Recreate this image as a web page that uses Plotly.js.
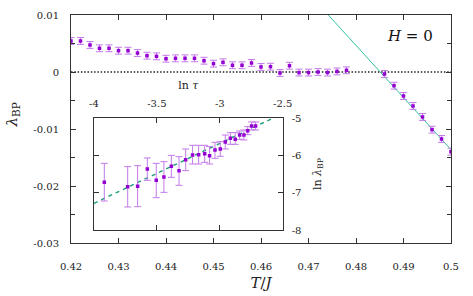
<!DOCTYPE html>
<html>
<head>
<meta charset="utf-8">
<script src="https://cdn.plot.ly/plotly-3.0.1.min.js"></script>
<style>
  html, body { margin: 0; padding: 0; background: #fff; }
  #chart { width: 473px; height: 296px; }
</style>
</head>
<body>
<div id="chart"></div>
<script>
// Bipartite-ness exponent lambda_BP versus temperature at zero field
const temperature = [
  0.420, 0.422, 0.424, 0.426, 0.428, 0.430, 0.432, 0.434, 0.436, 0.438,
  0.440, 0.442, 0.444, 0.446, 0.448, 0.450, 0.452, 0.454, 0.456, 0.458,
  0.460, 0.462, 0.464, 0.466, 0.468, 0.470, 0.472, 0.474, 0.476, 0.478,
  0.486, 0.488, 0.490, 0.492, 0.494, 0.496, 0.498, 0.500
];
const lambdaBP = [
  0.00544, 0.00544, 0.00474, 0.00416, 0.00416, 0.00374, 0.00374, 0.00333, 0.00286, 0.00275,
  0.00233, 0.00240, 0.00240, 0.00240, 0.00198, 0.00146, 0.00170, 0.00118, 0.00118, 0.00158,
  0.00088, 0.00093, -0.00018, 0.00110, -0.00010, -0.00010, 0.00000, -0.00010, 0.00010, 0.00030,
  -0.00035, -0.00240, -0.00421, -0.00596, -0.00789, -0.01012, -0.01175, -0.01398
];
const lambdaErr = [
  0.0006, 0.0006, 0.0006, 0.0006, 0.0006, 0.0006, 0.0006, 0.0006, 0.0006, 0.0006,
  0.0006, 0.0006, 0.0006, 0.0006, 0.0006, 0.0006, 0.0006, 0.0006, 0.0006, 0.0006,
  0.0006, 0.0006, 0.0006, 0.0006, 0.0006, 0.0006, 0.0006, 0.0006, 0.0006, 0.0006,
  0.0006, 0.0006, 0.0006, 0.0006, 0.0006, 0.0006, 0.0006, 0.0006
];

// Linear fit through the points above the transition
const fitT = [0.474, 0.500];
const fitLambda = [0.01015, -0.01362];

// Zero reference line
const zeroT = [0.42, 0.50];
const zeroLambda = [0, 0];

// Inset: log-log scaling below the transition
const lnTau = [
  -3.918, -3.732, -3.653, -3.576, -3.505, -3.444, -3.385, -3.324, -3.271, -3.216,
  -3.168, -3.120, -3.081, -3.038, -2.996, -2.956, -2.916, -2.877, -2.842, -2.808,
  -2.778, -2.747, -2.715
];
const lnLambda = [
  -6.720, -6.836, -6.827, -6.362, -6.666, -6.577, -6.290, -6.407, -6.111, -5.986,
  -5.977, -5.950, -6.004, -5.851, -5.825, -5.637, -5.538, -5.565, -5.449, -5.449,
  -5.332, -5.207, -5.207
];
const lnLambdaErrUp = [
  0.510, 0.537, 0.555, 0.296, 0.456, 0.412, 0.295, 0.377, 0.286, 0.260,
  0.251, 0.224, 0.243, 0.206, 0.198, 0.188, 0.152, 0.179, 0.108, 0.135,
  0.107, 0.108, 0.108
];
const lnLambdaErrDown = [
  0.501, 0.546, 0.547, 0.304, 0.466, 0.412, 0.296, 0.393, 0.296, 0.242,
  0.251, 0.233, 0.224, 0.224, 0.196, 0.188, 0.161, 0.134, 0.116, 0.134,
  0.108, 0.107, 0.107
];
const insetFitLnTau = [-4.0, -2.5];
const insetFitLnLambda = [-7.283, -4.871];

// Tick labels
const xTickVals = [0.42, 0.43, 0.44, 0.45, 0.46, 0.47, 0.48, 0.49, 0.50];
const xTickText = ['0.42', '0.43', '0.44', '0.45', '0.46', '0.47', '0.48', '0.49', '0.5'];
const yTickVals = [0.01, 0, -0.01, -0.02, -0.03];
const yTickText = ['0.01', '0', '-0.01', '-0.02', '-0.03'];
const yMinorVals = [0.005, -0.005, -0.015, -0.025];
const insetXTickVals = [-4, -3.5, -3, -2.5];
const insetXTickText = ['-4', '-3.5', '-3', '-2.5'];
const insetYTickVals = [-5, -6, -7, -8];
const insetYTickText = ['-5', '-6', '-7', '-8'];

const SERIF = '"DejaVu Serif", "Liberation Serif", serif';
const POINT = '#9400d3';
const BAR = '#c47ae8';

const traces = [
  {
    x: zeroT, y: zeroLambda, type: 'scatter', mode: 'lines',
    line: { color: '#222', width: 1.4, dash: '1.5px,1.8px' },
    hoverinfo: 'skip', xaxis: 'x', yaxis: 'y'
  },
  {
    x: fitT, y: fitLambda, type: 'scatter', mode: 'lines',
    line: { color: '#2fbf9f', width: 1 },
    hoverinfo: 'skip', xaxis: 'x', yaxis: 'y'
  },
  {
    x: temperature, y: lambdaBP, type: 'scatter', mode: 'markers',
    marker: { symbol: 'square', size: 3.5, color: POINT },
    error_y: { type: 'data', array: lambdaErr, color: BAR, thickness: 1, width: 3.5 },
    xaxis: 'x', yaxis: 'y'
  },
  {
    x: insetFitLnTau, y: insetFitLnLambda, type: 'scatter', mode: 'lines',
    line: { color: '#1a9e77', width: 1.4, dash: '4px,4px' },
    hoverinfo: 'skip', xaxis: 'x2', yaxis: 'y2'
  },
  {
    x: lnTau, y: lnLambda, type: 'scatter', mode: 'markers',
    marker: { symbol: 'square', size: 3.5, color: POINT },
    error_y: { type: 'data', symmetric: false, array: lnLambdaErrUp, arrayminus: lnLambdaErrDown,
               color: BAR, thickness: 1, width: 3.5 },
    xaxis: 'x2', yaxis: 'y2'
  }
];

const axisCommon = {
  showline: true, linecolor: '#333', linewidth: 1, mirror: 'ticks',
  ticks: 'inside', ticklen: 5, tickcolor: '#333', tickwidth: 1,
  showgrid: false, zeroline: false,
  tickfont: { family: SERIF, size: 10, color: '#222' }
};

const layout = {
  width: 473, height: 296,
  margin: { l: 71, r: 22, t: 15, b: 53 },
  paper_bgcolor: '#fff', plot_bgcolor: '#fff',
  showlegend: false,
  font: { family: SERIF, color: '#222' },
  xaxis: Object.assign({}, axisCommon, {
    range: [0.42, 0.50], tickmode: 'array', tickvals: xTickVals, ticktext: xTickText,
    ticklabelstandoff: 14,
    title: { text: '<i>T</i>/<i>J</i>', font: { family: SERIF, size: 15, color: '#222' }, standoff: 6 }
  }),
  yaxis: Object.assign({}, axisCommon, {
    range: [-0.03, 0.01], tickmode: 'array', tickvals: yTickVals, ticktext: yTickText,
    ticklabelstandoff: 9,
    minor: { tickmode: 'array', tickvals: yMinorVals, ticks: 'inside', ticklen: 4, tickcolor: '#333' }
  }),
  xaxis2: Object.assign({}, axisCommon, {
    domain: [0.0605, 0.557], anchor: 'y2', side: 'top',
    range: [-4, -2.5], tickmode: 'array', tickvals: insetXTickVals, ticktext: insetXTickText,
    ticklabelstandoff: 6,
    title: { text: 'ln <i>τ</i>', font: { family: SERIF, size: 11, color: '#222' }, standoff: 6 }
  }),
  yaxis2: Object.assign({}, axisCommon, {
    domain: [0.057, 0.547], anchor: 'x2', side: 'right',
    range: [-8, -5], tickmode: 'array', tickvals: insetYTickVals, ticktext: insetYTickText,
    ticklabelstandoff: 6,
    title: { text: 'ln <i>λ</i><sub>BP</sub>', font: { family: SERIF, size: 11, color: '#222' }, standoff: 12 }
  }),
  annotations: [
    {
      xref: 'paper', yref: 'paper', x: 0.892, y: 0.908, xanchor: 'center', yanchor: 'middle',
      text: '<i>H</i> = 0', showarrow: false,
      font: { family: SERIF, size: 15, color: '#111' }
    },
    {
      xref: 'paper', yref: 'paper', x: -0.155, y: 0.56, xanchor: 'center', yanchor: 'middle',
      textangle: -90,
      text: '<i>λ</i><sub>BP</sub>', showarrow: false,
      font: { family: SERIF, size: 15, color: '#222' }
    }
  ]
};

Plotly.newPlot('chart', traces, layout, { displayModeBar: false, staticPlot: true });
</script>
</body>
</html>
